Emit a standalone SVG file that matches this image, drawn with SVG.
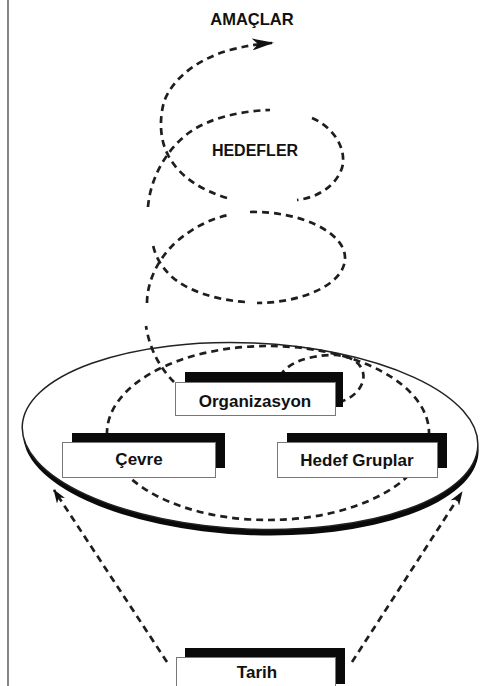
<svg xmlns="http://www.w3.org/2000/svg" width="490" height="686" viewBox="0 0 490 686">
  <style>
    .dash { fill: none; stroke: #1e1e1e; stroke-width: 2.7; stroke-dasharray: 7 5; }
    .lbl { font-family: "Liberation Sans", Arial, sans-serif; font-weight: bold; font-size: 17px; fill: #111; text-anchor: middle; }
    .shadow { fill: #0a0a0a; }
    .card { fill: #fff; stroke: #777; stroke-width: 1; }
  </style>
  <defs>
    <marker id="headLarge" markerUnits="userSpaceOnUse" viewBox="0 0 22 12" refX="20" refY="6" markerWidth="22" markerHeight="12" orient="auto">
      <path d="M0,0 L22,6 L0,12 L6,6 z" fill="#111"/>
    </marker>
    <marker id="headSmall" markerUnits="userSpaceOnUse" viewBox="0 0 14 10" refX="13" refY="5" markerWidth="14" markerHeight="10" orient="auto">
      <path d="M0,0 L14,5 L0,10 L4,5 z" fill="#111"/>
    </marker>
  </defs>

  <rect width="490" height="686" fill="#fff"/>
  <!-- left margin rule -->
  <line x1="8" y1="0" x2="8" y2="686" stroke="#333" stroke-width="1.2"/>

  <!-- tilted platform disc with heavy lower rim -->
  <g id="platform" transform="rotate(2.5 250 437)">
    <ellipse cx="251" cy="442" rx="228" ry="93" fill="#0a0a0a"/>
    <ellipse cx="250" cy="436" rx="228" ry="93" fill="#fff" stroke="#222" stroke-width="1.5"/>
  </g>

  <g id="connectors">
    <!-- lowest coil lying on the platform -->
    <ellipse class="dash" cx="268" cy="433" rx="161" ry="87"/>
    <path class="dash" d="M280,376 C288,362 310,355 335,355 C356,356 366,368 363,381 C360,391 352,398 340,402"/>
    <!-- rising spiral -->
    <path class="dash" d="M174,382 C162,370 150,352 146,326"/>
    <path class="dash" d="M147,303 C147,285 155,262 175,243 C192,228 210,219 228,215"/>
    <path class="dash" d="M250,212 C300,211 345,232 345,258 C345,285 300,303 257,303"/>
    <path class="dash" d="M245,302 C215,300 185,290 170,275 C160,265 155,255 153,245"/>
    <path class="dash" d="M148,207 C150,180 165,150 190,132 C210,118 240,111 270,110"/>
    <path class="dash" d="M312,118 C335,128 347,150 342,168 C335,188 315,198 297,200"/>
    <path class="dash" d="M227,198 C200,190 178,175 168,155 C160,140 159,120 164,102 C172,78 200,58 230,50 C245,46 258,44 272,43" marker-end="url(#headLarge)"/>
    <!-- links from the base up to the platform rim -->
    <path class="dash" d="M167,662 L54,490" marker-end="url(#headSmall)"/>
    <path class="dash" d="M352,662 L462,492" marker-end="url(#headSmall)"/>
  </g>

  <g id="amaclar">
    <text class="lbl" x="252" y="25" style="font-size:16.5px">AMAÇLAR</text>
  </g>
  <g id="hedefler">
    <text class="lbl" x="255" y="156" style="font-size:16px">HEDEFLER</text>
  </g>

  <g id="organizasyon">
    <rect class="shadow" x="185" y="372" width="158" height="35"/>
    <rect class="card" x="175.5" y="382.5" width="160" height="33"/>
    <text class="lbl" x="255" y="407">Organizasyon</text>
  </g>
  <g id="cevre">
    <rect class="shadow" x="72" y="433" width="153" height="35"/>
    <rect class="card" x="62.5" y="442.5" width="153" height="35"/>
    <text class="lbl" x="139" y="465">Çevre</text>
  </g>
  <g id="hedef-gruplar">
    <rect class="shadow" x="287" y="433" width="160" height="35"/>
    <rect class="card" x="277.5" y="442.5" width="160" height="35"/>
    <text class="lbl" x="357" y="466">Hedef Gruplar</text>
  </g>
  <g id="tarih">
    <rect class="shadow" x="185" y="648" width="160" height="36"/>
    <rect class="card" x="176.5" y="657.5" width="159" height="40"/>
    <text class="lbl" x="257" y="678">Tarih</text>
  </g>
</svg>
